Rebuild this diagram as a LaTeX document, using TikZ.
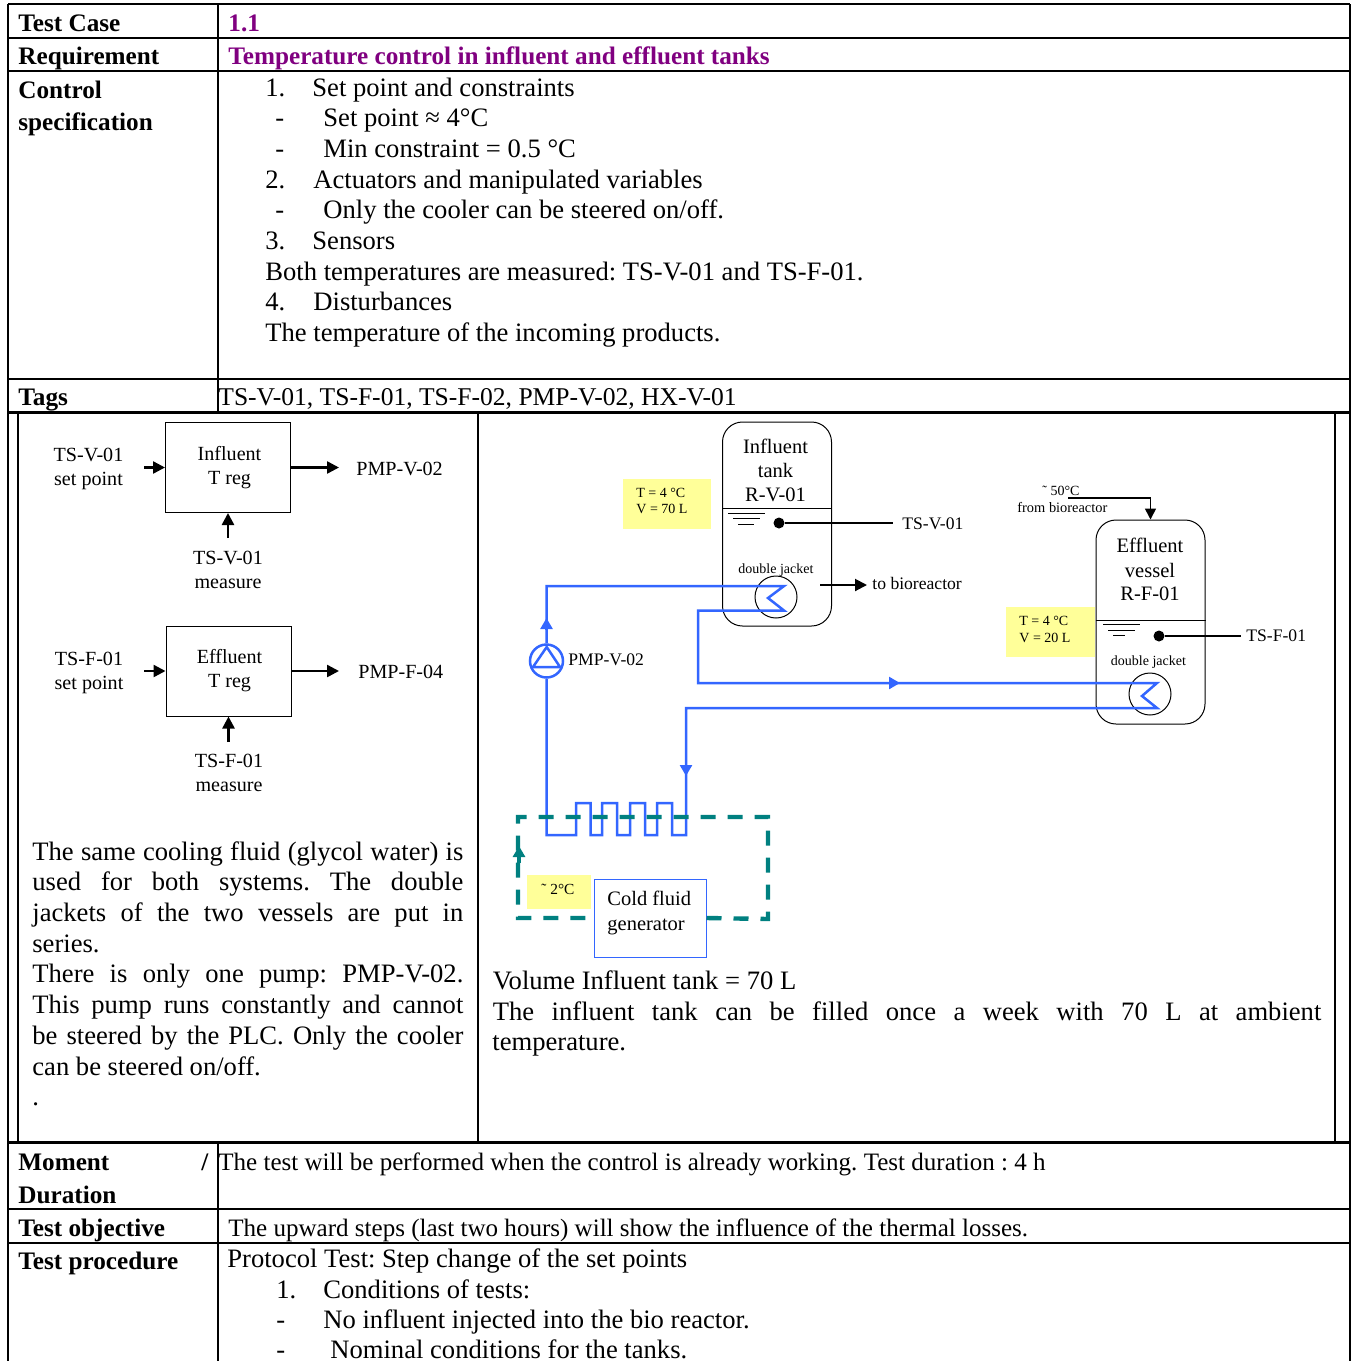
\documentclass[tikz,border=0pt]{standalone}
\usepackage{fontspec}
\setmainfont{Liberation Serif}
\usetikzlibrary{arrows.meta}
\definecolor{headpurple}{HTML}{800080}
\definecolor{pipeblue}{HTML}{3366FF}
\definecolor{loopteal}{HTML}{008080}
\definecolor{notefill}{HTML}{FFFF99}
\newcommand{\bodysize}{\fontsize{13.3}{15.35}\selectfont}
\newcommand{\rowsize}{\fontsize{12.52}{15}\selectfont}
\frenchspacing
\tikzset{
  bodytxt/.style={anchor=base west,inner sep=0pt,font=\bodysize},
  rowtxt/.style={bodytxt,font=\rowsize},
  headtxt/.style={bodytxt,font=\fontsize{12.6}{15}\selectfont\bfseries},
  purpletxt/.style={headtxt,text=headpurple},
  blocktxt/.style={anchor=base,inner sep=0pt,font=\fontsize{10.05}{11}\selectfont},
  blockleft/.style={blocktxt,anchor=base west},
  tanktxt/.style={anchor=base,inner sep=0pt,font=\fontsize{10.25}{12}\selectfont},
  tinytxt/.style={anchor=base west,inner sep=0pt,font=\fontsize{7}{8}\selectfont},
  tinymid/.style={tinytxt,anchor=base},
  pipetxt/.style={anchor=base west,inner sep=0pt,font=\fontsize{8.8}{10}\selectfont},
  regbox/.style={draw,line width=0.5pt,minimum width=62.5pt,minimum height=45pt,inner sep=0pt},
  tankbox/.style={draw,line width=0.5pt,rounded corners=10pt,minimum width=54.5pt,minimum height=102pt,inner sep=0pt},
  coilbox/.style={draw,circle,line width=0.5pt,minimum size=21pt,inner sep=0pt},
  sig/.style={line width=1.25pt,-{Triangle[length=6pt,width=6pt]}},
  pipe/.style={pipeblue,line width=1.25pt,line join=miter},
  pipetip/.style={pipeblue,line width=1.25pt,-{Triangle[length=5.5pt,width=6pt]}},
  cold/.style={loopteal,line width=2.2pt,dash pattern=on 7.5pt off 6pt},
  note/.style={fill=notefill,draw=none},
}
\begin{document}
\begin{tikzpicture}[x=0.5pt,y=-0.5pt]
  \useasboundingbox (0,0) rectangle (1351,1361);
  % table rules
  \draw[line width=1pt] (8,4) -- (1350,4);
  \draw[line width=1pt] (8,38) -- (1350,38);
  \draw[line width=1pt] (8,71) -- (1350,71);
  \draw[line width=1pt] (8,379) -- (1350,379);
  \draw[line width=1.5pt] (8,412.5) -- (1350,412.5);
  \draw[line width=1.65pt] (8,1142.6) -- (1350,1142.6);
  \draw[line width=1pt] (8,1209) -- (1350,1209);
  \draw[line width=1pt] (8,1243) -- (1350,1243);
  \draw[line width=1pt] (8,4) -- (8,1361);
  \draw[line width=1pt] (1350,4) -- (1350,1361);
  \draw[line width=1pt] (218,4) -- (218,412);
  \draw[line width=1pt] (218,1143) -- (218,1361);
  \draw[line width=1pt] (18,413) -- (18,1142);
  \draw[line width=1pt] (478,413) -- (478,1142);
  \draw[line width=1pt] (1335,413) -- (1335,1142);
  % top rows
  \node[headtxt] (hcase) at (18,31) {Test Case};
  \node[purpletxt] (vcase) at (228,31) {1.1};
  \node[headtxt] (hreq) at (18,64) {Requirement};
  \node[purpletxt] (vreq) at (228,64) {Temperature control in influent and effluent tanks};
  \node[headtxt] (hctrl) at (18,98) {Control};
  \node[headtxt] (hspec) at (18,130) {specification};
  \node[bodytxt] (n1) at (265,96) {1.};
  \node[bodytxt] (t1) at (312,96) {Set point and constraints};
  \node[bodytxt] (d1) at (275,126) {-};
  \node[bodytxt] (t1a) at (323,126) {Set point ≈ 4°C};
  \node[bodytxt] (d2) at (275,157) {-};
  \node[bodytxt] (t1b) at (323,157) {Min constraint = 0.5 °C};
  \node[bodytxt] (n2) at (265,188) {2.};
  \node[bodytxt] (t2) at (313,188) {Actuators and manipulated variables};
  \node[bodytxt] (d3) at (275,218) {-};
  \node[bodytxt] (t2a) at (323,218) {Only the cooler can be steered on/off.};
  \node[bodytxt] (n3) at (265,249) {3.};
  \node[bodytxt] (t3) at (312,249) {Sensors};
  \node[bodytxt] (t3a) at (265,280) {Both temperatures are measured: TS-V-01 and TS-F-01.};
  \node[bodytxt] (n4) at (265,310) {4.};
  \node[bodytxt] (t4) at (313,310) {Disturbances};
  \node[bodytxt] (t4a) at (265,341) {The temperature of the incoming products.};
  \node[headtxt] (htags) at (18,405) {Tags};
  \node[rowtxt,font=\fontsize{12.78}{15}\selectfont] (vtags) at (218,405) {TS-V-01, TS-F-01, TS-F-02, PMP-V-02, HX-V-01};
  % regulators
  \node[regbox] (inreg) at (228,467.5) {};
  \node[blocktxt] (inregA) at (229.5,460) {Influent};
  \node[blocktxt] (inregB) at (229.5,484) {T reg};
  \node[blocktxt] (insetA) at (88.5,461) {TS-V-01};
  \node[blocktxt] (insetB) at (88.5,485) {set point};
  \node[blockleft] (inout) at (356,475) {PMP-V-02};
  \node[blocktxt] (inmeasA) at (228,564) {TS-V-01};
  \node[blocktxt] (inmeasB) at (228,588) {measure};
  \coordinate (insetend) at (144,467.5);
  \coordinate (inoutend) at (339,467.5);
  \coordinate (inmeasend) at (228,538);
  \draw[sig] (insetend) -- (inreg.west);
  \draw[sig] (inreg.east) -- (inoutend);
  \draw[sig] (inmeasend) -- (inreg.south);
  \node[regbox] (efreg) at (228.5,671) {};
  \node[blocktxt] (efregA) at (229.5,663) {Effluent};
  \node[blocktxt] (efregB) at (229.5,687) {T reg};
  \node[blocktxt] (efsetA) at (89,665) {TS-F-01};
  \node[blocktxt] (efsetB) at (89,689) {set point};
  \node[blockleft] (efout) at (358,678) {PMP-F-04};
  \node[blocktxt] (efmeasA) at (229,767) {TS-F-01};
  \node[blocktxt] (efmeasB) at (229,791) {measure};
  \coordinate (efsetend) at (144,671);
  \coordinate (efoutend) at (339,671);
  \coordinate (efmeasend) at (228.5,742);
  \draw[sig] (efsetend) -- (efreg.west);
  \draw[sig] (efreg.east) -- (efoutend);
  \draw[sig] (efmeasend) -- (efreg.south);
  % left notes
  \node[anchor=north west,inner sep=0pt,text width=215.5pt,align=justify,font=\bodysize] (leftnote) at (32,841) {The same cooling fluid (glycol water) is\linebreak
    used for both systems. The double\linebreak
    jackets of the two vessels are put in\linebreak
    series.\\
    There is only one pump: PMP-V-02.\linebreak
    This pump runs constantly and cannot\linebreak
    be steered by the PLC. Only the cooler\linebreak
    can be steered on/off.\\
    .};
  % influent tank
  \fill[note] (623,479) rectangle (711,529);
  \node[tinytxt] (intankT) at (636,497) {T = 4 °C};
  \node[tinytxt] (intankV) at (636,513) {V = 70 L};
  \node[tankbox] (intank) at (777,524) {};
  \node[tanktxt] (intankA) at (775.5,453) {Influent};
  \node[tanktxt] (intankB) at (775.5,477) {tank};
  \node[tanktxt] (intankC) at (775.5,501) {R-V-01};
  \draw[line width=0.5pt] (intank.west |- 0,508) -- (intank.east |- 0,508);
  \draw[line width=0.5pt] (728,513) -- (765,513);
  \draw[line width=0.5pt] (733,518) -- (760,518);
  \draw[line width=0.5pt] (738,524) -- (754,524);
  \node[circle,fill,inner sep=0pt,minimum size=5.5pt] (indot) at (779,523) {};
  \node[pipetxt] (inprobe) at (902,529) {TS-V-01};
  \coordinate (inprobeend) at (893,523);
  \draw[line width=1pt] (indot) -- (inprobeend);
  \node[tinymid] (injacket) at (776,573) {double jacket};
  \node[coilbox] (incoil) at (776,597) {};
  \coordinate (tobioA) at (820,585);
  \coordinate (tobioB) at (867,585);
  \draw[sig,line width=1pt] (tobioA) -- (tobioB);
  \node[pipetxt] (tobio) at (872,589) {to bioreactor};
  % effluent vessel
  \fill[note] (1006,607) rectangle (1095,657);
  \node[tinytxt] (eftankT) at (1019,625) {T = 4 °C};
  \node[tinytxt] (eftankV) at (1019,642) {V = 20 L};
  \node[tankbox] (eftank) at (1150.5,622) {};
  \node[tanktxt] (eftankA) at (1150,552) {Effluent};
  \node[tanktxt] (eftankB) at (1150,577) {vessel};
  \node[tanktxt] (eftankC) at (1150,600) {R-F-01};
  \draw[line width=0.5pt] (eftank.west |- 0,620) -- (1206,620);
  \draw[line width=0.5pt] (1103,624) -- (1140,624);
  \draw[line width=0.5pt] (1108,630) -- (1135,630);
  \draw[line width=0.5pt] (1113,635) -- (1125,635);
  \node[circle,fill,inner sep=0pt,minimum size=5.5pt] (efdot) at (1159,636) {};
  \node[pipetxt] (efprobe) at (1246,641) {TS-F-01};
  \coordinate (efprobeend) at (1241,636);
  \draw[line width=1pt] (efdot) -- (efprobeend);
  \node[tinymid] (efjacket) at (1148.5,665) {double jacket};
  \node[coilbox] (efcoil) at (1150,694) {};
  \node[tinytxt] (frombioA) at (1042,495) {˜ 50°C};
  \node[tinytxt,font=\fontsize{7.2}{8}\selectfont] (frombioB) at (1017,512) {from bioreactor};
  \coordinate (frombioend) at (1068,498);
  \draw[line width=0.8pt,-{Triangle[length=5.5pt,width=5.5pt]}] (frombioend) -| (eftank.north);
  % glycol circuit
  \node[circle,draw=pipeblue,line width=1.25pt,minimum size=16.5pt,inner sep=0pt] (pump) at (546.5,661) {};
  \draw[pipe] (546.7,647) -- (533,667) -- (560,667) -- cycle;
  \node[pipetxt] (pumplbl) at (568,665) {PMP-V-02};
  \draw[pipe] (pump.north) -- (546.5,586) -- (784,586) -- (768,598) -- (784,610.5) -- (698,610.5) -- (698,683) -- (1157,683) -- (1142,696) -- (1157,708) -- (686,708) -- (686,835)
    -- (672,835) -- (672,803) -- (657,803) -- (657,835) -- (645,835) -- (645,803) -- (630,803) -- (630,835) -- (617,835) -- (617,803) -- (602,803) -- (602,835) -- (590.5,835) -- (590.5,803) -- (576,803) -- (576,835) -- (546.5,835) -- (pump.south);
  \coordinate (upA) at (546.5,630);
  \coordinate (upB) at (546.5,618);
  \draw[pipetip] (upA) -- (upB);
  \coordinate (rightA) at (885,683);
  \coordinate (rightB) at (900,683);
  \draw[pipetip] (rightA) -- (rightB);
  \coordinate (downA) at (686,762);
  \coordinate (downB) at (686,776);
  \draw[pipetip] (downA) -- (downB);
  % cold loop
  \node[draw=pipeblue,fill=white,line width=0.5pt,minimum width=56pt,minimum height=39pt,inner sep=0pt] (gen) at (650,918) {};
  \draw[cold] (gen.east) -- (768,919) -- (768,817) -- (518,817) -- (518,918) -- (gen.west);
  \fill[note] (527,875) rectangle (591,909);
  \node[tinytxt,font=\fontsize{7.7}{8}\selectfont] (lowT) at (541,894) {˜ 2°C};
  \node[anchor=base west,inner sep=0pt,font=\fontsize{10.25}{12}\selectfont] (genA) at (607,905) {Cold fluid};
  \node[anchor=base west,inner sep=0pt,font=\fontsize{10.25}{12}\selectfont] (genB) at (607,930) {generator};
  \coordinate (coldtail) at (519,863);
  \coordinate (coldtip) at (519,846);
  \draw[loopteal,line width=2pt,-{Triangle[length=5.5pt,width=6pt]}] (coldtail) -- (coldtip);
  % right notes
  \node[bodytxt] (volA) at (492.5,989) {Volume Influent tank = 70 L};
  \node[bodytxt] (volB) at (492.5,1020) {\makebox[414.2pt][s]{The influent tank can be filled once a week with 70 L at ambient}};
  \node[bodytxt] (volC) at (492,1050) {temperature.};
  % lower rows
  \node[headtxt] (hmom) at (18,1170) {Moment};
  \node[headtxt] (hslash) at (201,1170) {/};
  \node[headtxt] (hdur) at (18,1203) {Duration};
  \node[rowtxt] (vmom) at (218,1170) {The test will be performed when the control is already working. Test duration : 4 h};
  \node[headtxt] (hobj) at (18,1236) {Test objective};
  \node[rowtxt] (vobj) at (228,1236) {The upward steps (last two hours) will show the influence of the thermal losses.};
  \node[headtxt] (hproc) at (18,1269) {Test procedure};
  \node[bodytxt] (vproc) at (227,1267) {Protocol Test: Step change of the set points};
  \node[bodytxt] (pn1) at (276,1298) {1.};
  \node[bodytxt] (pt1) at (323,1298) {Conditions of tests:};
  \node[bodytxt] (pd1) at (276,1328) {-};
  \node[bodytxt] (pt2) at (323,1328) {No influent injected into the bio reactor.};
  \node[bodytxt] (pd2) at (276,1358) {-};
  \node[bodytxt] (pt3) at (330,1358) {Nominal conditions for the tanks.};
\end{tikzpicture}
\end{document}
